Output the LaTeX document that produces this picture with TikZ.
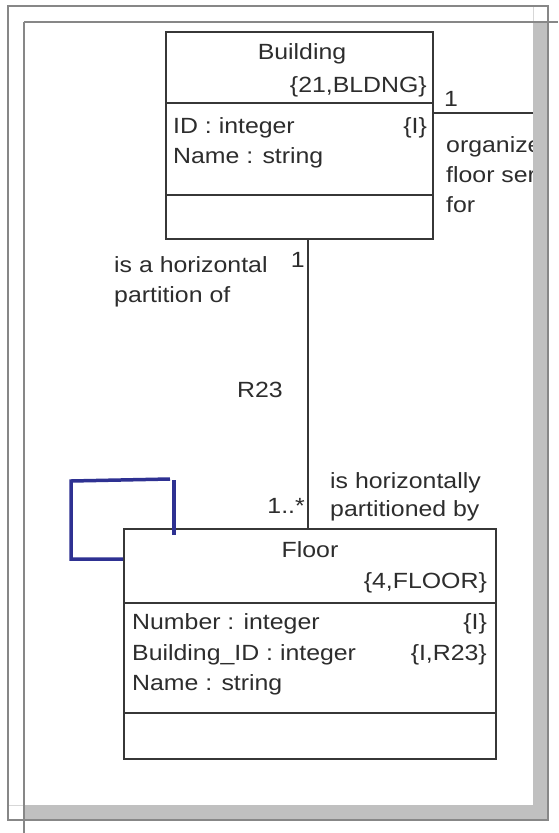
\documentclass[tikz,border=0pt]{standalone}
\usepackage{fontspec}
\setmainfont{Liberation Sans}[FakeStretch=1.13]
\definecolor{textgray}{RGB}{45,45,45}
\definecolor{boxgray}{RGB}{55,55,55}
\definecolor{framegray}{RGB}{135,135,135}
\definecolor{shadowgray}{RGB}{192,192,192}
\definecolor{lightline}{RGB}{215,215,215}
\definecolor{penblue}{RGB}{46,49,146}
\begin{document}
\begin{tikzpicture}[x=1pt,y=-1pt,
  txt/.style={inner sep=0pt, text=textgray, font=\fontsize{22}{26}\selectfont},
  umlbox/.style={draw=boxgray, line width=2pt, minimum width=#1, anchor=north west, inner sep=0pt},
  sepline/.style={draw=boxgray, line width=2pt},
  conn/.style={draw=boxgray, line width=2pt},
  framel/.style={draw=framegray, line width=1.5pt},
  pen/.style={draw=penblue, line width=3.5pt}]
\useasboundingbox (0,0) rectangle (558,833);
\fill[white] (0,0) rectangle (558,833);
% page shadow and frame
\fill[shadowgray] (533,22) rectangle (548,820);
\fill[shadowgray] (24,805) rectangle (548,820);
\draw[lightline, line width=1pt] (533,6) -- (533,22);
\draw[lightline, line width=1pt] (8,805) -- (24,805);
\draw[framel] (8,6) rectangle (548,820);
\draw[framel] (24,22) -- (558,22);
\draw[framel] (24,22) -- (24,833);

% Building class
\node[umlbox=267pt, minimum height=207pt] (bldg) at (165,31) {};
\draw[sepline] (bldg.west |- 0,103) -- (bldg.east |- 0,103);
\draw[sepline] (bldg.west |- 0,195) -- (bldg.east |- 0,195);
\node[txt, anchor=base] (bname) at (302,59) {Building};
\node[txt, anchor=base east] (bkey) at (427,92) {\{21,BLDNG\}};
\node[txt, anchor=base west] (battr1) at (173,133) {ID : integer};
\node[txt, anchor=base east] (battr1t) at (427,133) {\{I\}};
\node[txt, anchor=base west] (battr2) at (173,163) {Name : string};

% Floor class
\node[umlbox=372pt, minimum height=230pt] (floor) at (123,528) {};
\draw[sepline] (floor.west |- 0,603) -- (floor.east |- 0,603);
\draw[sepline] (floor.west |- 0,713) -- (floor.east |- 0,713);
\node[txt, anchor=base] (fname) at (310,557) {Floor};
\node[txt, anchor=base east] (fkey) at (487,588) {\{4,FLOOR\}};
\node[txt, anchor=base west] (fattr1) at (132,629) {Number : integer};
\node[txt, anchor=base east] (fattr1t) at (487,629) {\{I\}};
\node[txt, anchor=base west] (fattr2) at (132,660) {Building\_ID : integer};
\node[txt, anchor=base east] (fattr2t) at (487,660) {\{I,R23\}};
\node[txt, anchor=base west] (fattr3) at (132,690) {Name : string};

% R23 association
\draw[conn] (308,0 |- bldg.south) -- (308,0 |- floor.north);
\node[txt, anchor=base east] (m1) at (305,267) {1};
\node[txt, anchor=base west] (r1a) at (114,272) {is a horizontal};
\node[txt, anchor=base west] (r1b) at (114,302) {partition of};
\node[txt, anchor=base east] (rname) at (283,397) {R23};
\node[txt, anchor=base east] (m2) at (305,513) {1..*};
\node[txt, anchor=base west] (r2a) at (330,488) {is horizontally};
\node[txt, anchor=base west] (r2b) at (330,516) {partitioned by};

% association leaving to the right
\coordinate (rend) at (533,113);
\draw[conn] (bldg.east |- rend) -- (rend);
\node[txt, anchor=base west] (m3) at (444,106) {1};
\begin{scope}
\clip (436,120) rectangle (532,225);
\node[txt, anchor=base west] (o1) at (446,152) {organizes};
\node[txt, anchor=base west] (o2) at (446,182) {floor services};
\node[txt, anchor=base west] (o3) at (446,212) {for};
\end{scope}

% hand-drawn blue mark
\draw[pen] (170,479) -- (71,481) -- (71,559) -- (floor.west |- 0,559);
\draw[pen] (174,480) -- (174,535);
\end{tikzpicture}
\end{document}
